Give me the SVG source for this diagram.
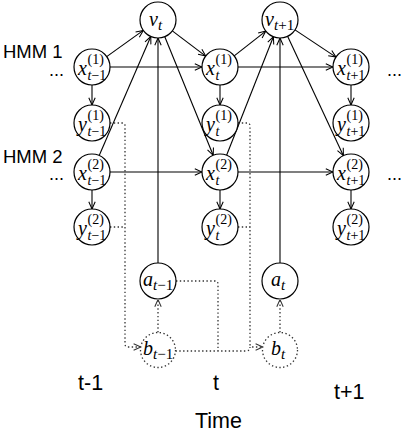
<svg xmlns="http://www.w3.org/2000/svg" width="407" height="440" viewBox="0 0 407 440">
<style>
.n{fill:#fff;stroke:#000;stroke-width:1.2}
.nd{fill:#fff;stroke:#333;stroke-width:1.3;stroke-dasharray:1.4 2.4}
.e{fill:none;stroke:#000;stroke-width:1.1;marker-end:url(#ah)}
.l{fill:none;stroke:#000;stroke-width:1.1}
.d{fill:none;stroke:#333;stroke-width:1.3;stroke-dasharray:1.4 2.4}
.da{fill:none;stroke:#333;stroke-width:1.3;stroke-dasharray:1.4 2.4;marker-end:url(#ahd)}
.m{font-family:"Liberation Serif",serif;font-style:italic;font-size:20px;fill:#000}
.s{font-family:"Liberation Serif",serif;font-size:14px;fill:#000}
.s15{font-family:"Liberation Serif",serif;font-size:15px;fill:#000}
.i{font-style:italic}
.lab{font-family:"Liberation Sans",Arial,sans-serif;fill:#000}
</style>
<defs>
<marker id="ah" viewBox="0 0 10 10" refX="10" refY="5" markerWidth="8" markerHeight="8" markerUnits="userSpaceOnUse" orient="auto">
<path d="M1,1 L10,5 L1,9" fill="none" stroke="#000" stroke-width="1.3"/>
</marker>
<marker id="ahd" viewBox="0 0 10 10" refX="10" refY="5" markerWidth="8" markerHeight="8" markerUnits="userSpaceOnUse" orient="auto">
<path d="M1,1 L10,5 L1,9" fill="none" stroke="#333" stroke-width="1.3"/>
</marker>
</defs>

<g id="connectors">
<line class="e" x1="106.7" y1="56.6" x2="143.3" y2="30.4"/>
<line class="e" x1="99.2" y1="155.5" x2="150.8" y2="36.5"/>
<line class="e" x1="158" y1="263" x2="158" y2="38"/>
<line class="e" x1="172.3" y1="30.9" x2="205.7" y2="56.1"/>
<line class="e" x1="164.8" y1="36.7" x2="213.2" y2="155.3"/>
<line class="e" x1="110" y1="67" x2="202" y2="67"/>
<line class="e" x1="110" y1="172" x2="202" y2="172"/>
<line class="e" x1="92" y1="85" x2="92" y2="105"/>
<line class="e" x1="92" y1="190" x2="92" y2="209"/>
<line class="e" x1="220" y1="85" x2="220" y2="105"/>
<line class="e" x1="220" y1="190" x2="220" y2="209"/>
<line class="e" x1="351" y1="85" x2="351" y2="105"/>
<line class="e" x1="351" y1="190" x2="351" y2="209"/>
<line class="e" x1="234.2" y1="55.9" x2="265.8" y2="31.1"/>
<line class="e" x1="226.6" y1="155.3" x2="273.4" y2="36.7"/>
<line class="e" x1="280" y1="263" x2="280" y2="38"/>
<line class="e" x1="295" y1="29.9" x2="336" y2="57.1"/>
<line class="e" x1="287.6" y1="36.3" x2="343.4" y2="155.7"/>
<line class="e" x1="238" y1="67" x2="333" y2="67"/>
<line class="e" x1="238" y1="172" x2="333" y2="172"/>

<path class="da" d="M110,123 H122 Q125,123 125,126 V344 Q125,347 128,347 H140.8"/>
<path class="d" d="M110,227 H125"/>
<path class="da" d="M238,123 H247 Q250,123 250,126 V344 Q250,347 253,347 H262.8"/>
<path class="d" d="M238,227 H250"/>
<path class="d" d="M176,281 H215 Q218,281 218,284 V351"/>
<path class="d" d="M175.5,351 H246 Q250,351 250,347"/>
<line class="da" x1="158" y1="332.5" x2="158" y2="299.5"/>
<line class="da" x1="280" y1="332.5" x2="280" y2="299.5"/>
</g>

<g id="v_t"><circle class="n" cx="158" cy="20" r="18"/>
<text class="m" x="149" y="26">v</text><text class="s15 i" x="158" y="30">t</text></g>
<g id="v_t1"><circle class="n" cx="280" cy="20" r="18"/>
<text class="m" x="265" y="26">v</text><text class="s15" x="274" y="30"><tspan class="i">t</tspan>+1</text></g>

<g id="x1_tm1"><circle class="n" cx="92" cy="67" r="18"/>
<text class="m" x="78" y="75">x</text><text class="s" x="87.5" y="64">(1)</text><text class="s" x="87.5" y="80"><tspan class="i">t</tspan>−1</text></g>
<g id="x1_t"><circle class="n" cx="220" cy="67" r="18"/>
<text class="m" x="206" y="75">x</text><text class="s" x="215.5" y="64">(1)</text><text class="s i" x="215.5" y="80">t</text></g>
<g id="x1_tp1"><circle class="n" cx="351" cy="67" r="18"/>
<text class="m" x="337" y="75">x</text><text class="s" x="346.5" y="64">(1)</text><text class="s" x="346.5" y="80"><tspan class="i">t</tspan>+1</text></g>

<g id="y1_tm1"><circle class="n" cx="92" cy="123" r="18"/>
<text class="m" x="78" y="131">y</text><text class="s" x="87.5" y="120">(1)</text><text class="s" x="87.5" y="136"><tspan class="i">t</tspan>−1</text></g>
<g id="y1_t"><circle class="n" cx="220" cy="123" r="18"/>
<text class="m" x="206" y="131">y</text><text class="s" x="215.5" y="120">(1)</text><text class="s i" x="215.5" y="136">t</text></g>
<g id="y1_tp1"><circle class="n" cx="351" cy="123" r="18"/>
<text class="m" x="337" y="131">y</text><text class="s" x="346.5" y="120">(1)</text><text class="s" x="346.5" y="136"><tspan class="i">t</tspan>+1</text></g>

<g id="x2_tm1"><circle class="n" cx="92" cy="172" r="18"/>
<text class="m" x="78" y="180">x</text><text class="s" x="87.5" y="169">(2)</text><text class="s" x="87.5" y="185"><tspan class="i">t</tspan>−1</text></g>
<g id="x2_t"><circle class="n" cx="220" cy="172" r="18"/>
<text class="m" x="206" y="180">x</text><text class="s" x="215.5" y="169">(2)</text><text class="s i" x="215.5" y="185">t</text></g>
<g id="x2_tp1"><circle class="n" cx="351" cy="172" r="18"/>
<text class="m" x="337" y="180">x</text><text class="s" x="346.5" y="169">(2)</text><text class="s" x="346.5" y="185"><tspan class="i">t</tspan>+1</text></g>

<g id="y2_tm1"><circle class="n" cx="92" cy="227" r="18"/>
<text class="m" x="78" y="235">y</text><text class="s" x="87.5" y="224">(2)</text><text class="s" x="87.5" y="240"><tspan class="i">t</tspan>−1</text></g>
<g id="y2_t"><circle class="n" cx="220" cy="227" r="18"/>
<text class="m" x="206" y="235">y</text><text class="s" x="215.5" y="224">(2)</text><text class="s i" x="215.5" y="240">t</text></g>
<g id="y2_tp1"><circle class="n" cx="351" cy="227" r="18"/>
<text class="m" x="337" y="235">y</text><text class="s" x="346.5" y="224">(2)</text><text class="s" x="346.5" y="240"><tspan class="i">t</tspan>+1</text></g>

<g id="a_tm1"><circle class="n" cx="158" cy="281" r="18"/>
<text class="m" x="143" y="286">a</text><text class="s15" x="153" y="290"><tspan class="i">t</tspan>−1</text></g>
<g id="a_t"><circle class="n" cx="280" cy="281" r="18"/>
<text class="m" x="271" y="286">a</text><text class="s15 i" x="281" y="290">t</text></g>

<g id="b_tm1"><circle class="nd" cx="158" cy="350" r="17.5"/>
<text class="m" x="143" y="355">b</text><text class="s15" x="153" y="359"><tspan class="i">t</tspan>−1</text></g>
<g id="b_t"><circle class="nd" cx="280" cy="350" r="17.5"/>
<text class="m" x="271" y="355">b</text><text class="s15 i" x="281" y="359">t</text></g>

<g id="labels">
<text class="lab" x="3" y="58" font-size="18.5">HMM 1</text>
<text class="lab" x="3" y="163" font-size="18.5">HMM 2</text>
<text class="lab" x="49" y="76" font-size="18">...</text>
<text class="lab" x="49" y="180" font-size="18">...</text>
<text class="lab" x="387" y="76" font-size="18">...</text>
<text class="lab" x="387" y="180" font-size="18">...</text>
<text class="lab" x="78" y="390" font-size="21.5">t-1</text>
<text class="lab" x="213" y="390" font-size="21.5">t</text>
<text class="lab" x="334" y="399" font-size="21.5">t+1</text>
<text class="lab" x="195" y="428" font-size="21.5">Time</text>
</g>
</svg>
